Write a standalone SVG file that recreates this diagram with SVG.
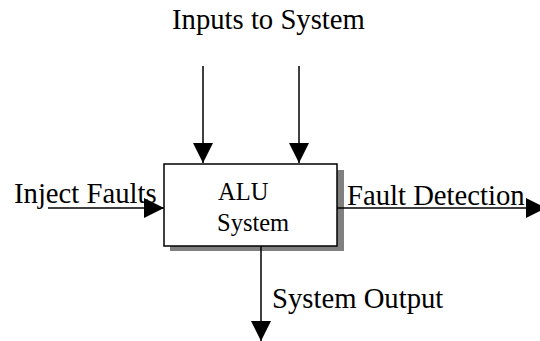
<svg xmlns="http://www.w3.org/2000/svg" width="540" height="341" viewBox="0 0 540 341">
  <style>
    .label { font-family: "Liberation Serif", "Times New Roman", serif; font-size: 28.7px; fill: #000; }
    .inner { font-family: "Liberation Serif", "Times New Roman", serif; font-size: 24.5px; fill: #000; }
    .wire { stroke: #000; stroke-width: 1.5; fill: none; }
  </style>
  <defs>
    <marker id="head" markerUnits="userSpaceOnUse" markerWidth="20" markerHeight="20" viewBox="0 0 20 20" refX="20" refY="10" orient="auto">
      <path d="M0,0 L20,10 L0,20 Z" fill="#000"/>
    </marker>
  </defs>
  <rect width="540" height="341" fill="#fff"/>

  <!-- central process block with drop shadow -->
  <g id="alu-system">
    <rect x="170" y="170" width="174" height="81" fill="#808080"/>
    <rect x="164" y="164" width="173" height="82" fill="#fff" stroke="#000" stroke-width="1.5"/>
    <text class="inner" x="218" y="200">ALU</text>
    <text class="inner" x="217" y="231">System</text>
  </g>

  <g id="connectors">
    <line class="wire" x1="203" y1="66" x2="203" y2="163" marker-end="url(#head)"/>
    <line class="wire" x1="299" y1="66" x2="299" y2="163" marker-end="url(#head)"/>
    <line class="wire" x1="48" y1="208" x2="164" y2="208" marker-end="url(#head)"/>
    <line class="wire" x1="337" y1="208" x2="546" y2="208" marker-end="url(#head)"/>
    <line class="wire" x1="261" y1="246" x2="261" y2="341" marker-end="url(#head)"/>
  </g>

  <g id="labels">
    <text class="label" x="172" y="29">Inputs to System</text>
    <text class="label" x="14" y="203">Inject Faults</text>
    <text class="label" x="347" y="205">Fault Detection</text>
    <text class="label" x="272" y="308">System Output</text>
  </g>
</svg>
